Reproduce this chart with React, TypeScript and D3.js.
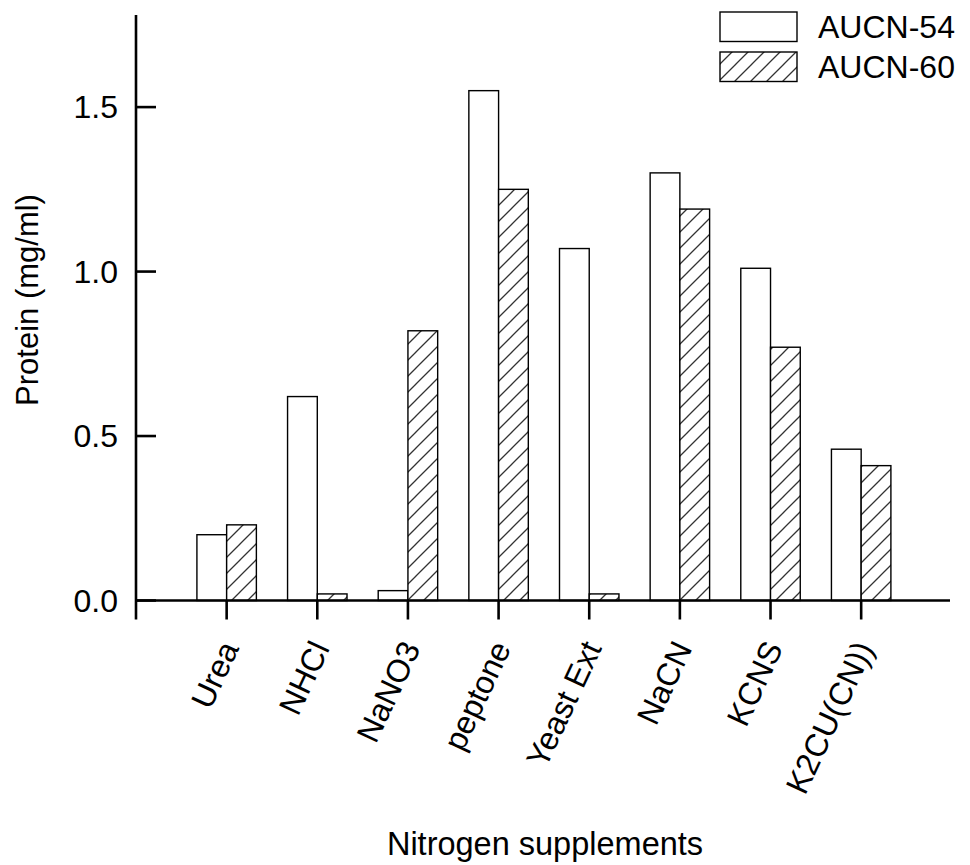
import React from 'react';
import * as d3 from 'd3';

const categories = ['Urea', 'NHCl', 'NaNO3', 'peptone', 'Yeast Ext', 'NaCN', 'KCNS', 'K2CU(CN))'];
const aucn54 = [0.2, 0.62, 0.03, 1.55, 1.07, 1.3, 1.01, 0.46];
const aucn60 = [0.23, 0.02, 0.82, 1.25, 0.02, 1.19, 0.77, 0.41];
const yTicks = [0, 0.5, 1.0, 1.5];
const seriesNames = ['AUCN-54', 'AUCN-60'];

const FONT = '"Liberation Sans", Arial, Helvetica, sans-serif';

export default function App() {
  const W = 970;
  const H = 865;
  const x = d3.scaleLinear().domain([0, 8.98]).range([136, 950]);
  const y = d3.scaleLinear().domain([0, 1.78]).range([600.5, 15]);
  const barW = 0.328;
  const tickLen = 19;
  const y0 = y(0);
  const fmt = d3.format('.1f');

  return (
    <svg
      width={W}
      height={H}
      viewBox={`0 0 ${W} ${H}`}
      style={{ position: 'absolute', left: 0, top: 0, background: '#fff' }}
      fontFamily={FONT}
    >
      <defs>
        <pattern id="hatch" patternUnits="userSpaceOnUse" width={16} height={16}>
          <rect width={16} height={16} fill="#fff" />
          <path d="M0,16 L16,0 M-4,4 L4,-4 M12,20 L20,12" stroke="#333" strokeWidth={1.3} />
        </pattern>
      </defs>
      <rect x={0} y={0} width={W} height={H} fill="#fff" />

      {/* bars */}
      {categories.map((c, i) => {
        const cx = i + 1;
        return (
          <g key={c}>
            <rect
              x={x(cx - barW)}
              y={y(aucn54[i])}
              width={x(cx) - x(cx - barW)}
              height={y0 - y(aucn54[i])}
              fill="#fff"
              stroke="#000"
              strokeWidth={1.4}
            />
            <rect
              x={x(cx)}
              y={y(aucn60[i])}
              width={x(cx + barW) - x(cx)}
              height={y0 - y(aucn60[i])}
              fill="url(#hatch)"
              stroke="#000"
              strokeWidth={1.4}
            />
          </g>
        );
      })}

      {/* axes */}
      <line x1={x(0)} x2={x(0)} y1={y(1.78)} y2={y0 + tickLen} stroke="#000" strokeWidth={2.6} />
      <line x1={x(0)} x2={x(8.98)} y1={y0} y2={y0} stroke="#000" strokeWidth={2.6} />
      {yTicks.map((t) => (
        <g key={t}>
          <line x1={x(0)} x2={x(0) + 20} y1={y(t)} y2={y(t)} stroke="#000" strokeWidth={2.6} />
          <text x={118} y={y(t) + 11} textAnchor="end" fontSize={32} fill="#000">
            {fmt(t)}
          </text>
        </g>
      ))}
      {categories.map((c, i) => {
        const tx = x(i + 1);
        return (
          <g key={'t' + c}>
            <line x1={tx} x2={tx} y1={y0} y2={y0 + tickLen} stroke="#000" strokeWidth={2.6} />
            <text
              transform={`translate(${tx + 13},648) rotate(-65)`}
              textAnchor="end"
              fontSize={32}
              fill="#000"
            >
              {c}
            </text>
          </g>
        );
      })}

      {/* axis titles */}
      <text
        transform={`translate(38,300) rotate(-90)`}
        textAnchor="middle"
        fontSize={31}
        fill="#000"
      >
        Protein (mg/ml)
      </text>
      <text x={545} y={855} textAnchor="middle" fontSize={32.5} fill="#000">
        Nitrogen supplements
      </text>

      {/* legend */}
      {seriesNames.map((s, i) => {
        const ly = 12 + i * 40;
        return (
          <g key={s}>
            <rect
              x={720}
              y={ly}
              width={77}
              height={29.5}
              fill={i === 0 ? '#fff' : 'url(#hatch)'}
              stroke="#000"
              strokeWidth={1.4}
            />
            <text x={818} y={ly + 26} fontSize={32} fill="#000">
              {s}
            </text>
          </g>
        );
      })}
    </svg>
  );
}
